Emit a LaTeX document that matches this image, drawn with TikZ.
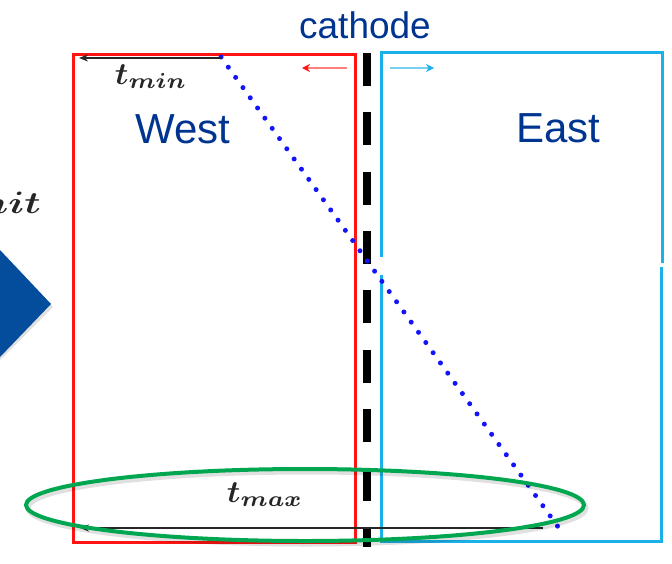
\documentclass[tikz,border=0pt]{standalone}
\usepackage{fontspec}
\setmainfont{Liberation Sans}
\usetikzlibrary{arrows.meta}
\definecolor{westred}{RGB}{255,20,20}
\definecolor{eastblue}{RGB}{28,176,232}
\definecolor{labelblue}{RGB}{0,52,145}
\definecolor{dotblue}{RGB}{20,20,250}
\definecolor{ringgreen}{RGB}{0,166,80}
\definecolor{arrowblue}{RGB}{4,76,156}
% math labels are set at 10pt and enlarged
\newcommand{\bigmath}[1]{\scalebox{3.3}[3.1]{\boldmath$#1$}}
\tikzset{
  region/.style={line width=3pt},
  sidelabel/.style={text=labelblue, font=\fontsize{42}{48}\selectfont, inner sep=0pt, anchor=base west},
  timelabel/.style={inner sep=0pt, anchor=base, text=black!85},
  timearrow/.style={line width=1.9pt, draw=black!85, -{Stealth[length=9pt,width=7pt]}},
  driftarrow/.style={line width=1.6pt},
}
\begin{document}
\begin{tikzpicture}[x=1pt,y=-1pt]
\useasboundingbox (0,0) rectangle (672,563);

% incoming chevron and its label on the left
\fill[black!20, opacity=0.6] (0,252) -- (53,307) -- (0,360) -- cycle;
\fill[arrowblue] (0,250) -- (51,304) -- (0,357) -- cycle;
\node[timelabel, anchor=base east] (init) at (41,213) {\scalebox{1.2}[1]{\bigmath{nit}}};

% west half of the chamber
\draw[region, westred] (73,54) rectangle (355,542);

% east half of the chamber, its outline slightly broken at mid height
\draw[region, eastblue] (381,257) -- (381,52) -- (662,52) -- (662,263);
\draw[region, eastblue] (661,267) -- (661,541) -- (381,541) -- (381,275);

% cathode plane
\draw[line width=8.5pt, dash pattern=on 33pt off 26.3pt] (367,53) -- (367,547);
\node[text=labelblue, font=\fontsize{37}{42}\selectfont, inner sep=0pt, anchor=base] (cathode) at (365,38) {cathode};

% drift directions
\coordinate (wdA) at (347,68);
\coordinate (wdB) at (302,68);
\coordinate (edA) at (390,68);
\coordinate (edB) at (434,68);
\draw[driftarrow, draw=westred!55, -{Stealth[length=8pt,width=8pt,color=westred]}] (wdA) -- (wdB);
\draw[driftarrow, draw=eastblue!60, -{Stealth[length=8pt,width=8pt,color=eastblue]}] (edA) -- (edB);

\node[sidelabel] (west) at (135,143) {West};
\node[sidelabel] (east) at (516,142) {East};

% track crossing the cathode
\coordinate (trkA) at (221,57);
\coordinate (trkB) at (561,531);
\draw[dotblue, line width=5pt, line cap=round, dash pattern=on 0pt off 12.55pt] (trkA) -- (trkB);

% drift times
\coordinate (tminR) at (221,58);
\coordinate (tminL) at (79,58);
\draw[timearrow] (tminR) -- (tminL);
\node[timelabel] (tmin) at (151,84) {\bigmath{t_{min}}};

\coordinate (tmaxR) at (543,528);
\coordinate (tmaxL) at (80,528);
\draw[timearrow, line width=2pt] (tmaxR) -- (tmaxL);
\node[timelabel] (tmax) at (265,502) {\bigmath{t_{max}}};

% highlight ring
\draw[black, opacity=0.12, line width=5pt] (307,508) ellipse [x radius=279pt, y radius=36pt];
\draw[ringgreen, line width=4pt] (305,505) ellipse [x radius=279pt, y radius=36pt];
\end{tikzpicture}
\end{document}
